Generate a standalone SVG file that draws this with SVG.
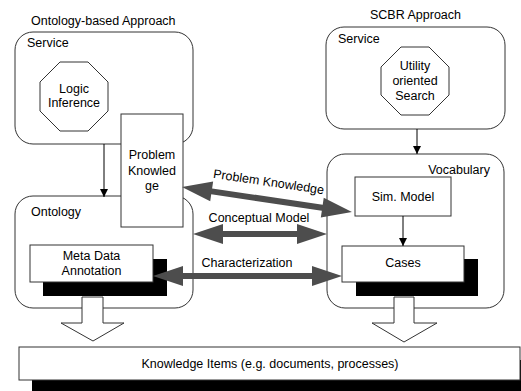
<svg xmlns="http://www.w3.org/2000/svg" width="521" height="391" viewBox="0 0 521 391">
<style>
text{font-family:"Liberation Sans",Arial,sans-serif;font-size:12.5px;fill:#000}
.m{text-anchor:middle}
.box{fill:#fff;stroke:#333;stroke-width:1}
.shadow{fill:#000}
.thin{stroke:#000;stroke-width:1;fill:none}
.big{fill:#4d4d4d}
.hollow{fill:#fff;stroke:#333;stroke-width:1}
</style>
<defs>
<marker id="ah" viewBox="0 0 10 10" refX="10" refY="5" markerWidth="8" markerHeight="9" markerUnits="userSpaceOnUse" orient="auto">
<path d="M0,0 L10,5 L0,10 Z" fill="#000"/>
</marker>
</defs>
<rect width="521" height="391" fill="#fff"/>
<text x="31" y="25">Ontology-based Approach</text>
<text x="370" y="19">SCBR Approach</text>

<g id="service-left">
<rect class="box" x="15" y="32" width="178" height="112" rx="18"/>
<text x="27" y="47">Service</text>
</g>
<g id="logic-inference">
<polygon class="box" points="60,62 88,62 108,82 108,111 88,131 60,131 40,111 40,82"/>
<text class="m" x="74" y="93">Logic</text>
<text class="m" x="74" y="107">Inference</text>
</g>
<g id="ontology">
<rect class="box" x="15" y="196" width="178" height="112" rx="18"/>
<text x="31" y="216">Ontology</text>
</g>
<g id="meta-data">
<rect class="shadow" x="43" y="259" width="124" height="37"/>
<rect class="box" x="30" y="245" width="123" height="37"/>
<text class="m" x="91.5" y="260">Meta Data</text>
<text class="m" x="91.5" y="275">Annotation</text>
</g>
<g id="problem-knowledge">
<rect class="box" x="121" y="114" width="62" height="113"/>
<text class="m" x="152" y="159">Problem</text>
<text class="m" x="152" y="175">Knowled</text>
<text class="m" x="152" y="190">ge</text>
</g>

<g id="service-right">
<rect class="box" x="326" y="27" width="179" height="102" rx="18"/>
<text x="338" y="43">Service</text>
</g>
<g id="utility-search">
<polygon class="box" points="401,47 429,47 449,67 449,95 429,115 401,115 381,95 381,67"/>
<text class="m" x="415" y="70">Utility</text>
<text class="m" x="415" y="85">oriented</text>
<text class="m" x="415" y="100">Search</text>
</g>
<g id="vocabulary">
<rect class="box" x="327" y="154" width="177" height="154" rx="18"/>
<text x="490" y="174" text-anchor="end">Vocabulary</text>
</g>
<g id="sim-model">
<rect class="box" x="355" y="177" width="96" height="39"/>
<text class="m" x="403" y="201">Sim. Model</text>
</g>
<g id="cases">
<rect class="shadow" x="356" y="259" width="122" height="37"/>
<rect class="box" x="342" y="246" width="122" height="36"/>
<text class="m" x="403" y="267">Cases</text>
</g>

<g id="knowledge-items">
<rect class="shadow" x="32" y="360" width="495" height="35"/>
<rect class="box" x="19" y="347" width="501" height="33"/>
<text class="m" x="270" y="368">Knowledge Items (e.g. documents, processes)</text>
</g>

<g id="connectors">
<line class="thin" x1="104" y1="144" x2="104" y2="197" marker-end="url(#ah)"/>
<line class="thin" x1="417" y1="129" x2="417" y2="154" marker-end="url(#ah)"/>
<line class="thin" x1="403" y1="216" x2="403" y2="246" marker-end="url(#ah)"/>
<polygon class="hollow" points="82,297 103,297 103,323 124,323 93,341 61,323 82,323"/>
<polygon class="hollow" points="394,297 414,297 414,323 437,323 404,342 372,323 394,323"/>
<path class="big" transform="translate(182,187) rotate(8.4)" d="M0,0 L30,-10 L30,-3 L141.8,-3 L141.8,-10 L171.8,0 L141.8,10 L141.8,3 L30,3 L30,10 Z"/>
<path class="big" transform="translate(193,234)" d="M0,0 L30,-10 L30,-3 L104,-3 L104,-10 L134,0 L104,10 L104,3 L30,3 L30,10 Z"/>
<path class="big" transform="translate(153,276)" d="M0,0 L30,-10 L30,-3 L159,-3 L159,-10 L189,0 L159,10 L159,3 L30,3 L30,10 Z"/>
<text class="m" transform="translate(268,186) rotate(8.4)">Problem Knowledge</text>
<text class="m" x="259" y="222">Conceptual Model</text>
<text class="m" x="247" y="267">Characterization</text>
</g>
</svg>
